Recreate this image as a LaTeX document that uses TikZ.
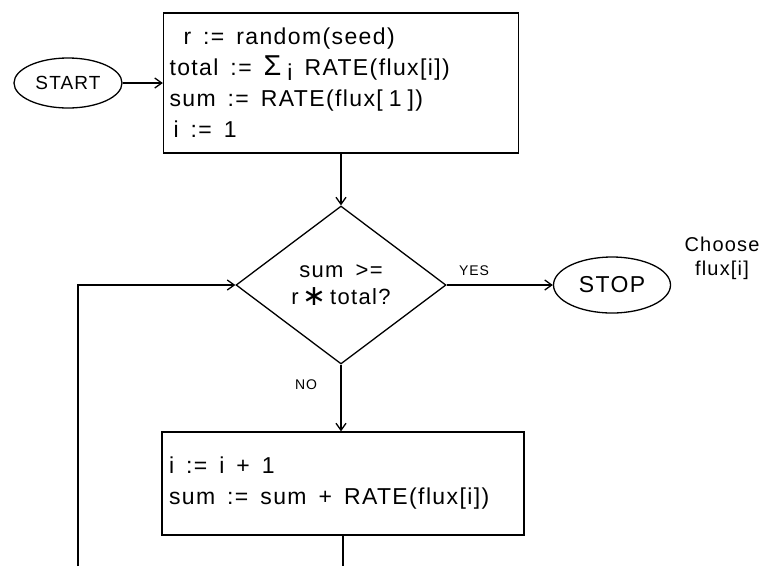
\documentclass[tikz,border=0pt]{standalone}
\usepackage{fontspec}
\setmainfont{Liberation Sans}[LetterSpace=6]
\newfontfamily\symfont{DejaVu Sans}
\usetikzlibrary{shapes.geometric,arrows.meta}
\newcommand\gap{\hspace{12pt}}
\newcommand\halfgap{\hspace{6pt}}
\tikzset{
  flow/.style={line width=1.3pt},
  arr/.style={flow,-{Straight Barb[length=7pt,width=10pt,line width=1.3pt]}},
  box/.style={draw,flow,rectangle,align=left,inner xsep=6pt,
    font=\fontsize{23}{31}\selectfont},
  term/.style={draw,flow,ellipse,inner sep=0pt},
  decide/.style={draw,flow,diamond,inner sep=0pt,align=center,
    font=\fontsize{22}{27}\selectfont},
  tag/.style={font=\fontsize{14}{16}\selectfont},
}
\begin{document}
\begin{tikzpicture}[x=1pt,y=-1pt]
\useasboundingbox (0,0) rectangle (762,566);

% terminals
\node[term, minimum width=108, minimum height=50,
      font=\fontsize{19}{22}\selectfont] (start) at (68,83) {START};
\node[term, minimum width=117, minimum height=56,
      font=\fontsize{23}{27}\selectfont] (stop) at (612,285) {STOP};

% initialisation
\node[box, minimum width=355, minimum height=140, text width=343pt] (init) at (341,83)
  {\hspace*{14pt}r\gap:=\gap random(seed)\\
   total\gap:=\gap\scalebox{1.25}{Σ}\halfgap\raisebox{-5pt}{i}\gap RATE(flux[i])\\
   sum\gap:=\gap RATE(flux[\halfgap 1\halfgap])\\
   \hspace*{4pt}i\gap:=\gap 1};

% test
\node[decide, minimum width=210, minimum height=158] (dia) at (341,285)
  {sum\gap>=\\r\,\raisebox{-1pt}{\scalebox{1.3}{\symfont ∗}}\,total?};

% increment
\node[box, minimum width=362, minimum height=103, text width=348pt,
      inner xsep=7pt] (update) at (343,483.5)
  {i\gap:=\gap i\gap+\gap 1\\
   sum\gap:=\gap sum\gap+\gap RATE(flux[i])};

% notes and branch labels
\node[align=center, font=\fontsize{20}{24}\selectfont] (note) at (722,258)
  {Choose\\flux[i]};
\node[tag] (yes) at (474,271) {YES};
\node[tag] (no) at (306,385) {NO};

% connectors
\draw[arr] (start.east) -- (init.west);
\draw[arr] (init.south) -- (dia.north);
\draw[arr] (dia.east) -- (stop.west);
\draw[arr] (dia.south) -- (dia.south |- update.north);

% loop back (runs off the lower edge)
\coordinate (floor) at (0,566);
\coordinate (loopR) at (update.south |- floor);
\coordinate (loopL) at (78,566);
\draw[flow] (update.south) -- (loopR);
\draw[arr] (loopL) |- (dia.west);
\end{tikzpicture}
\end{document}
